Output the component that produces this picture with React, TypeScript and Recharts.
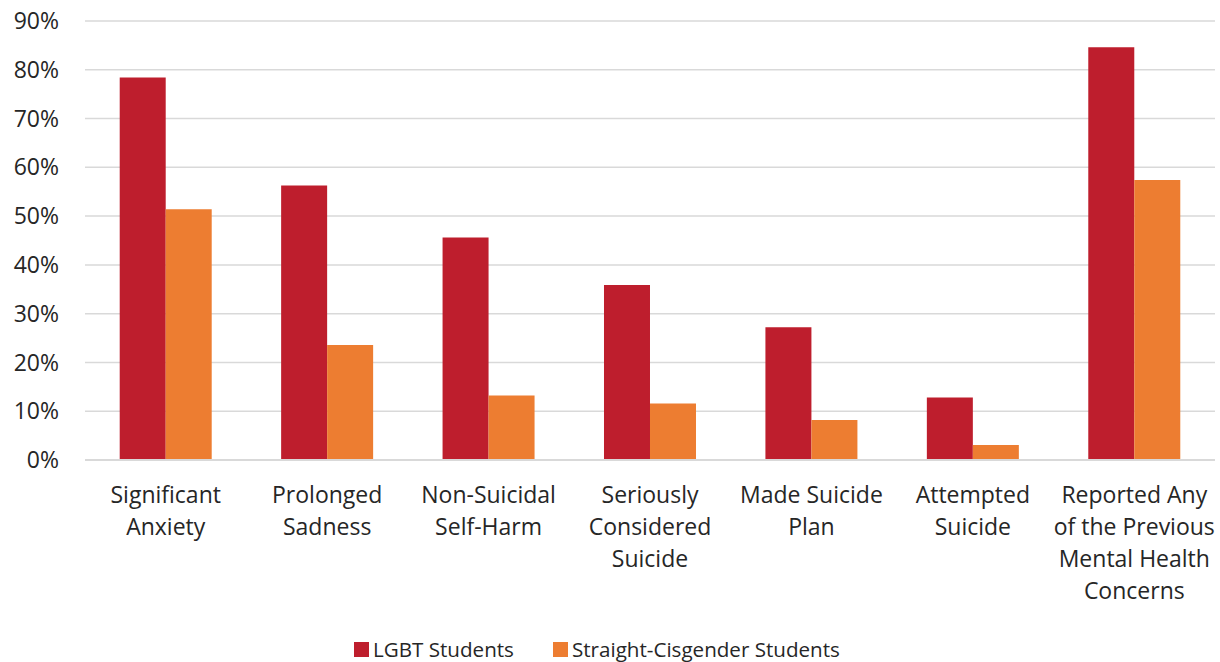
import React from "react";
import { BarChart, Bar, XAxis, YAxis, CartesianGrid, Legend } from "recharts";

// Survey categories (line breaks mark where each axis label wraps)
const categories = [
  "Significant\nAnxiety",
  "Prolonged\nSadness",
  "Non-Suicidal\nSelf-Harm",
  "Seriously\nConsidered\nSuicide",
  "Made Suicide\nPlan",
  "Attempted\nSuicide",
  "Reported Any\nof the Previous\nMental Health\nConcerns",
];

// Percent of students reporting each concern
const lgbtValues = [78.4, 56.3, 45.6, 35.9, 27.2, 12.8, 84.6];
const straightCisValues = [51.4, 23.6, 13.2, 11.6, 8.2, 3.1, 57.4];

const yTicks = [0, 10, 20, 30, 40, 50, 60, 70, 80, 90];

const seriesNames = ["LGBT Students", "Straight-Cisgender Students"];
const seriesColors = ["#BE1E2D", "#ED7D31"];

const FONT = "'Open Sans', 'Segoe UI', sans-serif";
const TEXT = "#262626";

const data = categories.map((category, i) => ({
  category,
  lgbt: lgbtValues[i],
  straight: straightCisValues[i],
}));

const CategoryTick = (props: any) => {
  const { x, y, payload } = props;
  const lines = String(payload.value).split("\n");
  return (
    <g transform={`translate(${x},${y})`}>
      <text textAnchor="middle" fill={TEXT} fontSize={23} fontFamily={FONT}>
        {lines.map((line, i) => (
          <tspan key={i} x={0} dy={i === 0 ? 43 : 32}>
            {line}
          </tspan>
        ))}
      </text>
    </g>
  );
};

const LegendContent = () => (
  <div
    style={{
      display: "flex",
      justifyContent: "flex-start",
      alignItems: "center",
      fontFamily: FONT,
      fontSize: 20.6,
      color: TEXT,
    }}
  >
    {seriesNames.map((name, i) => (
      <div
        key={name}
        style={{ display: "flex", alignItems: "center", marginRight: i === 0 ? 39 : 0 }}
      >
        <span
          style={{
            width: 15,
            height: 15,
            background: seriesColors[i],
            display: "inline-block",
            marginRight: 4,
          }}
        />
        <span>{name}</span>
      </div>
    ))}
  </div>
);

export default function App() {
  return (
    <div style={{ position: "absolute", left: 0, top: 0, width: 1220, height: 662, background: "#fff" }}>
      <BarChart
        width={1220}
        height={662}
        data={data}
        margin={{ top: 21, right: 5, left: 0, bottom: 52 }}
        barCategoryGap="21.5%"
        barGap={0}
      >
        <CartesianGrid vertical={false} stroke="#d9d9d9" strokeWidth={1.5} />
        <XAxis
          dataKey="category"
          height={150}
          tickSize={0}
          tickMargin={0}
          tickLine={false}
          axisLine={{ stroke: "#d9d9d9", strokeWidth: 2 }}
          tick={<CategoryTick />}
          interval={0}
        />
        <YAxis
          width={85}
          domain={[0, 90]}
          ticks={yTicks}
          tickFormatter={(v: number) => `${v}%`}
          axisLine={false}
          tickLine={false}
          tickSize={0}
          tickMargin={26}
          tick={{ fill: TEXT, fontSize: 23, fontFamily: FONT }}
        />
        <Bar dataKey="lgbt" name={seriesNames[0]} fill={seriesColors[0]} isAnimationActive={false} />
        <Bar dataKey="straight" name={seriesNames[1]} fill={seriesColors[1]} isAnimationActive={false} />
        <Legend
          layout="horizontal"
          verticalAlign="middle"
          align="center"
          content={<LegendContent />}
          wrapperStyle={{ top: 635, left: 354, width: 700 }}
        />
      </BarChart>
    </div>
  );
}
